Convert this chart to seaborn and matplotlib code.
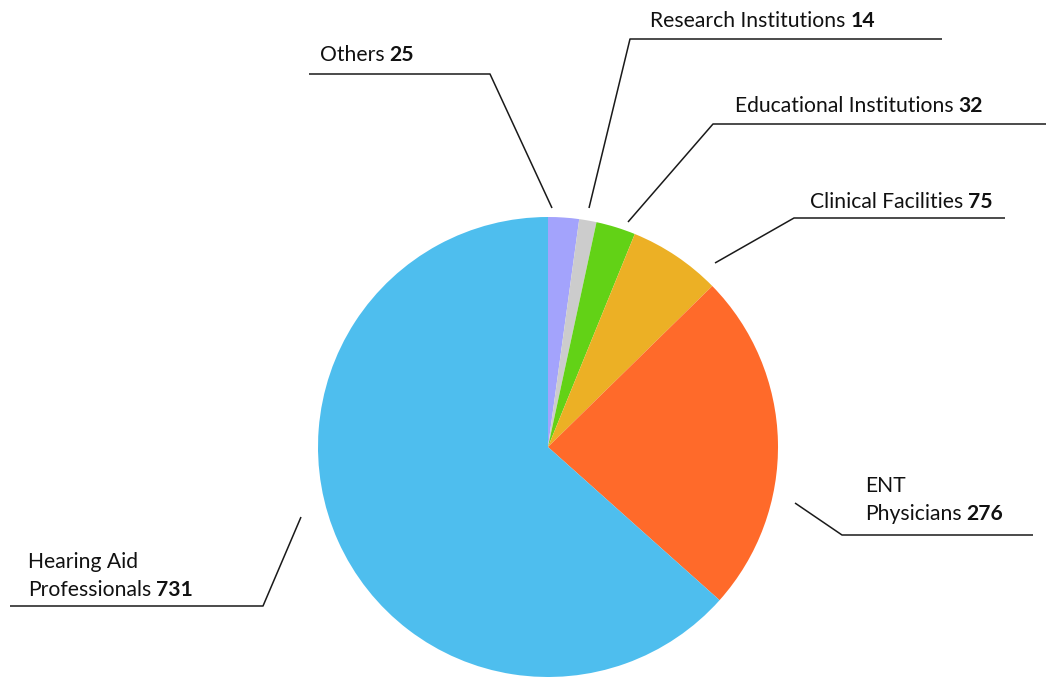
import matplotlib
matplotlib.use("Agg")
import matplotlib.pyplot as plt
import seaborn as sns

# ---- data ----
categories = ["Others", "Research Institutions", "Educational Institutions",
              "Clinical Facilities", "ENT\nPhysicians", "Hearing Aid\nProfessionals"]
values = [25, 14, 32, 75, 276, 731]
colors = ["#A3A3FC", "#CCCCCC", "#62D216", "#ECB025", "#FF6A2A", "#4EBEEE"]

# ---- layout (pixel positions of label leader lines and text) ----
W, H = 1046, 677
CX, CY, R = 548, 447, 230
leader_px = [
    [(552, 208), (490, 74), (309, 74)],
    [(589, 208), (630, 39), (942, 39)],
    [(628, 222), (713, 124), (1046, 124)],
    [(715, 263), (794, 218), (1005, 218)],
    [(795, 503), (842, 535), (1033, 535)],
    [(301, 517), (263, 606), (10, 606)],
]
text_px = [(320, 61), (650, 27), (735, 112), (810, 208), (865, 520), (28, 596)]

sns.set_theme(style="white")
plt.rcParams["font.family"] = ["Lato", "DejaVu Sans"]

fig = plt.figure(figsize=(W / 100, H / 100), dpi=100)
ax = fig.add_axes([0, 0, 1, 1])

ax.pie(values, colors=colors, startangle=90, counterclock=False, radius=1,
       center=(0, 0), wedgeprops=dict(linewidth=0), frame=True)
ax.set_aspect("equal")
ax.set_xlim(-CX / R, (W - CX) / R)
ax.set_ylim(-(H - CY) / R, CY / R)
ax.axis("off")


def to_data(p):
    return ((p[0] - CX) / R, (CY - p[1]) / R)


FS = 15.2
LINE_GAP = 28 / R
for cat, val, pts, tp in zip(categories, values, leader_px, text_px):
    d = [to_data(p) for p in pts]
    ax.plot([q[0] for q in d], [q[1] for q in d], color="#1a1a1a", lw=1.1,
            solid_capstyle="butt", zorder=3)
    lines = cat.split("\n")
    tx, ty = to_data(tp)
    n = len(lines)
    for i, ln in enumerate(lines[:-1]):
        ax.text(tx, ty + (n - 1 - i) * LINE_GAP, ln, fontsize=FS,
                color="#111111", ha="left", va="baseline")
    t = ax.text(tx, ty, lines[-1], fontsize=FS, color="#111111",
                ha="left", va="baseline")
    ax.annotate(str(val), xy=(1, 0), xycoords=t, xytext=(3.5, 0),
                textcoords="offset points", fontsize=FS, fontweight="bold",
                color="#111111", ha="left", va="bottom")

fig.savefig("out.png", dpi=100, facecolor="white")
